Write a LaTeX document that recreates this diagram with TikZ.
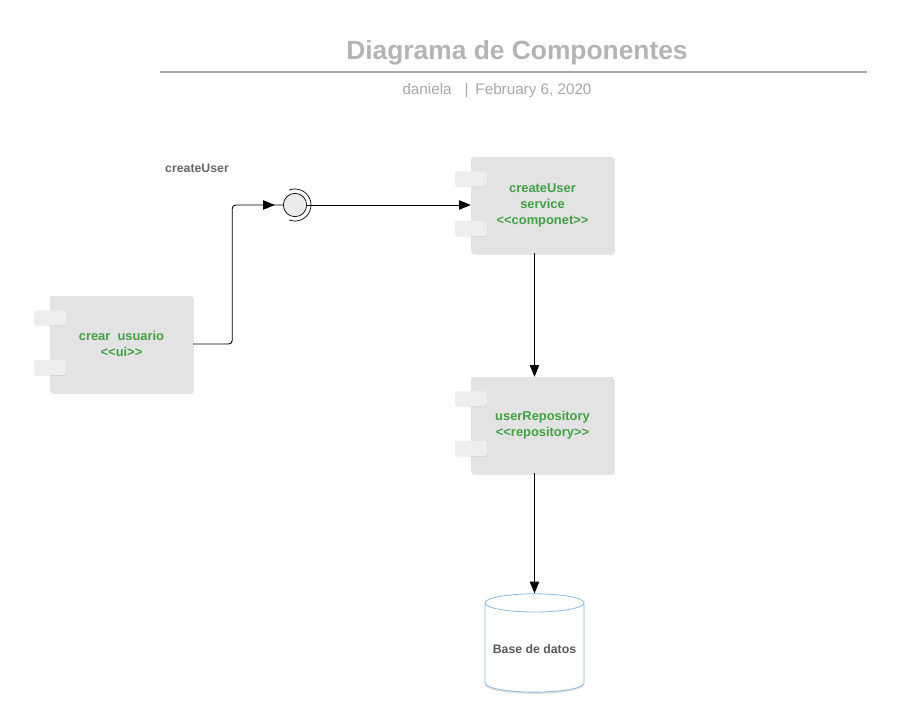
\documentclass[tikz,border=0pt]{standalone}
\usepackage{fontspec}
\setmainfont{Liberation Sans}
\usetikzlibrary{positioning,shapes.geometric,shadows,arrows.meta,decorations.markings}
\definecolor{titlegray}{HTML}{B4B4B4}
\definecolor{subgray}{HTML}{A8A8A8}
\definecolor{compgray}{HTML}{E3E3E3}
\definecolor{tabgray}{HTML}{EEEEEE}
\definecolor{labelgreen}{HTML}{43A047}
\definecolor{dbblue}{HTML}{8CBBE0}

\begin{document}
\begin{tikzpicture}[x=0.03cm,y=-0.03cm,
  comp/.style={fill=compgray, rounded corners=2pt, minimum width=4.29cm, minimum height=2.88cm,
    align=center, text=labelgreen, font=\bfseries\fontsize{11}{13.7}\selectfont,
    drop shadow={opacity=0.2, shadow xshift=0.8pt, shadow yshift=-1.5pt}},
  tab/.style={fill=tabgray, rounded corners=2pt, minimum width=0.96cm, minimum height=0.45cm,
    inner sep=0pt, drop shadow={opacity=0.12, shadow xshift=0.4pt, shadow yshift=-0.8pt}},
  conn/.style={black, line width=0.8pt},
  tip/.style={-{Triangle[length=10pt,width=8pt]}}]
\useasboundingbox (0,0) rectangle (907,727);
% title
\node [text=titlegray, font=\bfseries\fontsize{22.5}{26}\selectfont] (title) at (517,53) {Diagrama de Componentes};
\draw [subgray, line width=1.3pt] (160,72) -- (867,72);
\node [text=subgray, font=\fontsize{13}{15}\selectfont] (sub) at (497,91) {daniela\hspace{11pt}|\hspace{6pt}February 6, 2020};
% components
\node [comp] (cu) at (121.5,344) {crear~~usuario\\{<}{<}ui{>}{>}};
\node [comp] (srv) at (542.5,205) {createUser\\service\\{<}{<}componet{>}{>}};
\node [comp] (repo) at (542.5,425) {userRepository\\{<}{<}repository{>}{>}};
\foreach \c in {cu,srv,repo} {
  \node [tab] (\c t1) at ([yshift=-0.66cm]\c.north west) {};
  \node [tab] (\c t2) at ([yshift=-2.15cm]\c.north west) {};
}
% interface
\node [text=black!60, font=\bfseries\fontsize{10.5}{12}\selectfont] (ilabel) at (197,168) {createUser};
\node [circle, draw, line width=0.6pt, fill=black!8, minimum size=0.7cm, inner sep=0pt] (iface) at (295,205) {};
\draw [line width=0.6pt] (iface.center) ++(112:16) arc (112:-112:16);
% database
\node [cylinder, shape border rotate=90, aspect=0.2, draw=dbblue, fill=white, line width=0.7pt,
  minimum width=2.97cm, minimum height=2.95cm, text=black!65, font=\bfseries\fontsize{10.5}{12}\selectfont,
  drop shadow={opacity=0.25, shadow xshift=0pt, shadow yshift=-1.5pt}] (db) at (534.5,649.5) {Base de datos};
% connectors
\draw [conn, rounded corners=3pt,
  postaction={decorate, decoration={markings, mark=at position -7pt with {\arrow{Triangle[length=10pt,width=8pt]}}}}]
  (cu.east) -- ++(39,0) |- (iface.west);
\draw [conn, tip] (iface.east) -- (srv.west);
\draw [conn, tip] (srv.south -| db.top) -- (repo.north -| db.top);
\draw [conn, tip] (repo.south -| db.top) -- (db.top);
\end{tikzpicture}
\end{document}
